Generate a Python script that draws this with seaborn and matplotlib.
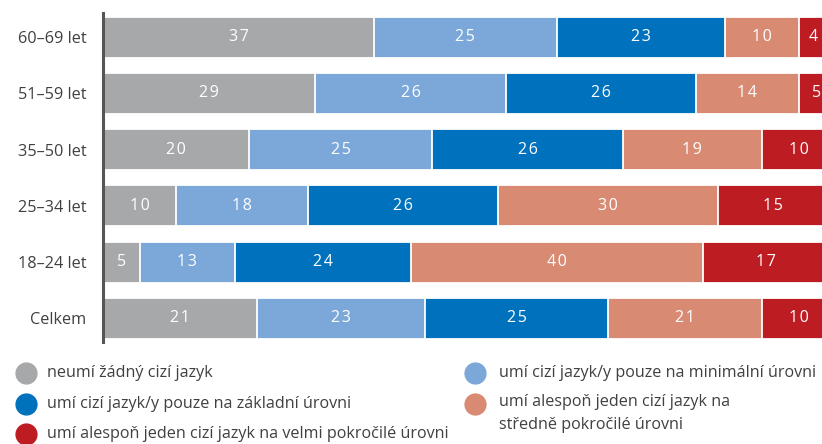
import numpy as np
import pandas as pd
import matplotlib.pyplot as plt
import seaborn as sns
from matplotlib.lines import Line2D

groups = ["60–69 let", "51–59 let", "35–50 let", "25–34 let", "18–24 let", "Celkem"]
none_lang = [37, 29, 20, 10, 5, 21]
minimal = [25, 26, 25, 18, 13, 23]
basic = [23, 26, 26, 26, 24, 25]
intermediate = [10, 14, 19, 30, 40, 21]
advanced = [4, 5, 10, 15, 17, 10]

series_names = [
    "neumí žádný cizí jazyk",
    "umí cizí jazyk/y pouze na minimální úrovni",
    "umí cizí jazyk/y pouze na základní úrovni",
    "umí alespoň jeden cizí jazyk na\nstředně pokročilé úrovni",
    "umí alespoň jeden cizí jazyk na velmi pokročilé úrovni",
]
colors = ["#a7a8aa", "#7ba7d9", "#0071bc", "#d98a73", "#be1c23"]

sns.set_theme(style="white")
plt.rcParams["font.family"] = ["Open Sans", "DejaVu Sans"]
text_color = "#404040"

values = np.array([none_lang, minimal, basic, intermediate, advanced])
cum = values.cumsum(axis=0)

fig = plt.figure(figsize=(8.22, 4.44), dpi=100)
ax = fig.add_axes([103 / 822, 1 - 342 / 444, 1 - 103 / 822, (342 - 13) / 444])

# stacked bars: draw cumulative totals from the longest down
for i in range(len(values) - 1, -1, -1):
    df = pd.DataFrame({"grp": groups, "val": cum[i]})
    sns.barplot(data=df, x="val", y="grp", order=groups, color=colors[i],
                saturation=1, width=0.73, edgecolor="white", linewidth=1.3, ax=ax)

for j in range(len(groups)):
    for i in range(len(values)):
        v = values[i, j]
        left = cum[i, j] - v
        ax.text(left + v / 2, j, "\u200a".join(str(v)), ha="center", va="center",
                color="white", fontsize=11.5)

ax.set_xlim(0, 98.2)
ax.set_ylim(5.42, -0.43)
ax.set_xlabel("")
ax.set_ylabel("")
ax.set_xticks([])
ax.tick_params(axis="y", length=0, pad=12, labelsize=11.7, labelcolor=text_color)
for s in ["top", "right", "bottom"]:
    ax.spines[s].set_visible(False)
ax.spines["left"].set_color("#555555")
ax.spines["left"].set_linewidth(2.2)
ax.spines["left"].set_zorder(5)

# legend, drawn by hand so the two-line entry keeps its marker on the first line
legend_pos = [(26, 47, 373), (475, 499, 373), (26, 47, 404), (475, 499, 404), (26, 47, 434)]
for k, (mx, tx, y) in enumerate(legend_pos):
    yf = 1 - y / 444
    fig.add_artist(Line2D([mx / 822], [yf], marker="o", markersize=15, color=colors[k],
                          linestyle="none", transform=fig.transFigure))
    if "\n" in series_names[k]:
        fig.text(tx / 822, 1 - (y - 10) / 444, series_names[k], ha="left", va="top",
                 fontsize=11.6, color=text_color, linespacing=1.55)
    else:
        fig.text(tx / 822, yf, series_names[k], ha="left", va="center",
                 fontsize=11.6, color=text_color)

fig.savefig("out.png", dpi=100)
